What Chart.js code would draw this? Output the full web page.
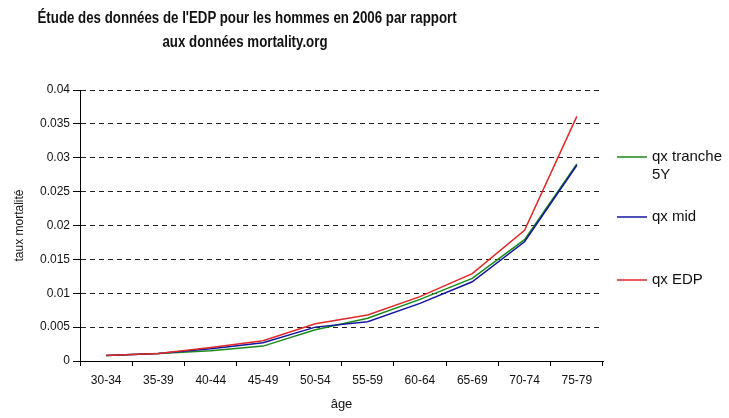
<!DOCTYPE html>
<html lang="fr">
<head>
<meta charset="UTF-8">
<title>Mortalité hommes 2006</title>
<script src="https://cdn.jsdelivr.net/npm/chart.js"></script>
<style>
  body { margin: 0; background: #fff; }
  .wrap { position: relative; width: 729px; height: 418px; }
  .chart-title {
    position: absolute; left: -5px; top: 6px; width: 500px;
    text-align: center; white-space: nowrap;
    font-family: "Liberation Sans", Arial, sans-serif;
    font-weight: bold; font-size: 16px; line-height: 24px; color: #111;
    transform: scaleX(0.83); transform-origin: 250px 0;
  }
</style>
</head>
<body>
<div class="wrap">
  <div class="chart-title">Étude des données de l'EDP pour les hommes en 2006 par rapport<br>aux données mortality.org</div>
  <canvas id="qxChart" width="729" height="418"></canvas>
</div>
<script>
// tranches d'âge
const ageGroups = ['30-34', '35-39', '40-44', '45-49', '50-54', '55-59', '60-64', '65-69', '70-74', '75-79'];
// taux de mortalité (qx) par tranche
const qxTranche5Y = [0.0008, 0.0011, 0.0015, 0.0022, 0.0046, 0.0063, 0.0091, 0.0122, 0.0179, 0.0291];
const qxMid       = [0.0008, 0.0011, 0.0018, 0.0027, 0.0050, 0.0058, 0.0085, 0.0117, 0.0176, 0.0289];
const qxEDP       = [0.0008, 0.0011, 0.0020, 0.0030, 0.0055, 0.0068, 0.0095, 0.0129, 0.0193, 0.0361];
const seriesLabels = ['qx tranche 5Y', 'qx mid', 'qx EDP'];
const seriesColors = ['#1a8a1a', '#1414a0', '#e02828'];

const font = 'Liberation Sans, Arial, sans-serif';

// légende dessinée à droite, une entrée par série
const sideLegend = {
  id: 'sideLegend',
  afterDraw(chart) {
    const ctx = chart.ctx;
    const ys = [157, 217, 280];
    ctx.save();
    ctx.font = '15px ' + font;
    ctx.textBaseline = 'middle';
    chart.data.datasets.forEach((ds, i) => {
      const y = ys[i];
      ctx.strokeStyle = ds.borderColor;
      ctx.lineWidth = 1.5;
      ctx.beginPath();
      ctx.moveTo(617, y);
      ctx.lineTo(647, y);
      ctx.stroke();
      ctx.fillStyle = '#111';
      // coupe le libellé sur plusieurs lignes si trop long
      const words = ds.label.split(' ');
      let line = '', lines = [];
      words.forEach(w => {
        const t = line ? line + ' ' + w : w;
        if (ctx.measureText(t).width > 78 && line) { lines.push(line); line = w; }
        else line = t;
      });
      lines.push(line);
      lines.forEach((l, k) => ctx.fillText(l, 652, y + k * 18));
    });
    ctx.restore();
  }
};

const datasets = [qxTranche5Y, qxMid, qxEDP].map((vals, i) => ({
  label: seriesLabels[i],
  data: vals,
  borderColor: seriesColors[i],
  backgroundColor: seriesColors[i],
  borderWidth: 1.5,
  pointRadius: 0,
  tension: 0,
  fill: false,
  order: 3 - i
}));

new Chart(document.getElementById('qxChart'), {
  type: 'line',
  data: { labels: ageGroups, datasets: datasets },
  plugins: [sideLegend],
  options: {
    responsive: false,
    animation: false,
    layout: { padding: { left: 0, right: 126, top: 90, bottom: 0 } },
    plugins: {
      legend: { display: false },
      title: { display: false },
      tooltip: { enabled: false }
    },
    scales: {
      x: {
        offset: true,
        afterFit: s => { s.height = 57; },
        grid: { offset: true, drawOnChartArea: false, drawTicks: true, tickLength: 5, color: '#000' },
        border: { display: true, color: '#000', width: 1 },
        ticks: { color: '#111', font: { family: font, size: 12 }, padding: 7, maxRotation: 0, autoSkip: false },
        title: { display: true, text: 'âge', color: '#111', font: { family: font, size: 13 }, padding: { top: 0, bottom: 6 } }
      },
      y: {
        min: 0,
        max: 0.04,
        afterFit: s => { s.width = 80; },
        grid: { color: '#222', lineWidth: 1, drawTicks: true, tickLength: 7, tickColor: '#000', tickBorderDash: [] },
        border: { display: true, color: '#000', width: 1, dash: [5, 4] },
        ticks: { stepSize: 0.005, color: '#111', font: { family: font, size: 12 }, padding: 3,
          callback: v => +v.toFixed(3) },
        title: { display: true, text: 'taux mortalité', color: '#111', font: { family: font, size: 12 }, padding: { top: 12, bottom: 0 } }
      }
    }
  }
});
</script>
</body>
</html>
